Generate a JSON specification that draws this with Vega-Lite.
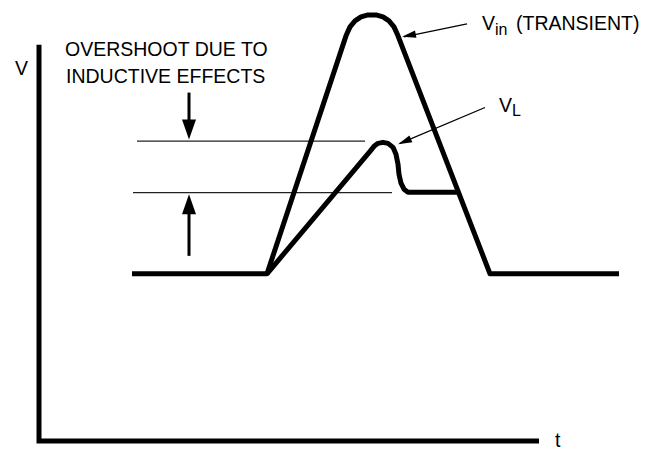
{
  "$schema": "https://vega.github.io/schema/vega-lite/v6.json",
  "width": 661,
  "height": 451,
  "autosize": {"type": "fit", "contains": "padding"},
  "padding": 0,
  "background": "white",
  "config": {"view": {"stroke": null}},
  "datasets": {
    "axes": [
      {"t": 39, "v": 406, "i": 0},
      {"t": 39, "v": 8, "i": 1},
      {"t": 539, "v": 8, "i": 2}
    ],
    "curves": [
      {"series": "Vin", "i": 0, "t": 132, "v": 176},
      {"series": "Vin", "i": 1, "t": 267, "v": 176},
      {"series": "Vin", "i": 2, "t": 346, "v": 415},
      {"series": "Vin", "i": 3, "t": 350, "v": 424},
      {"series": "Vin", "i": 4, "t": 355, "v": 430},
      {"series": "Vin", "i": 5, "t": 361, "v": 434},
      {"series": "Vin", "i": 6, "t": 368, "v": 436},
      {"series": "Vin", "i": 7, "t": 376, "v": 436},
      {"series": "Vin", "i": 8, "t": 383, "v": 434},
      {"series": "Vin", "i": 9, "t": 389, "v": 430},
      {"series": "Vin", "i": 10, "t": 394, "v": 424},
      {"series": "Vin", "i": 11, "t": 398, "v": 415},
      {"series": "Vin", "i": 12, "t": 490, "v": 176},
      {"series": "Vin", "i": 13, "t": 619, "v": 176},
      {"series": "VL", "i": 0, "t": 267, "v": 176},
      {"series": "VL", "i": 1, "t": 370, "v": 299},
      {"series": "VL", "i": 2, "t": 374, "v": 304},
      {"series": "VL", "i": 3, "t": 378, "v": 307},
      {"series": "VL", "i": 4, "t": 383, "v": 308},
      {"series": "VL", "i": 5, "t": 388, "v": 307},
      {"series": "VL", "i": 6, "t": 393, "v": 303},
      {"series": "VL", "i": 7, "t": 396, "v": 296},
      {"series": "VL", "i": 8, "t": 398, "v": 286},
      {"series": "VL", "i": 9, "t": 399, "v": 276},
      {"series": "VL", "i": 10, "t": 401, "v": 267},
      {"series": "VL", "i": 11, "t": 404, "v": 261},
      {"series": "VL", "i": 12, "t": 408, "v": 258},
      {"series": "VL", "i": 13, "t": 458, "v": 258}
    ],
    "refs": [
      {"level": "peak", "t": 137, "t2": 365, "v": 309.3},
      {"level": "settled", "t": 133, "t2": 392, "v": 257.5}
    ],
    "shafts": [
      {"dir": "down", "t": 189, "v": 358, "v2": 328},
      {"dir": "up", "t": 189, "v": 241, "v2": 194}
    ],
    "pointers": [
      {"target": "Vin", "t": 467, "v": 427, "t2": 404, "v2": 414},
      {"target": "VL", "t": 485, "v": 343, "t2": 400, "v2": 307}
    ],
    "heads": [
      {"name": "down", "t": 189, "v": 311},
      {"name": "up", "t": 189, "v": 256},
      {"name": "Vin", "t": 402, "v": 414},
      {"name": "VL", "t": 398, "v": 306}
    ],
    "labels": [
      {"text": "OVERSHOOT DUE TO", "t": 65, "v": 395},
      {"text": "INDUCTIVE EFFECTS", "t": 66, "v": 368},
      {"text": "V", "t": 15, "v": 376},
      {"text": "t", "t": 555, "v": 2},
      {"text": "V", "t": 482, "v": 421},
      {"text": "(TRANSIENT)", "t": 516, "v": 421},
      {"text": "V", "t": 499, "v": 338}
    ],
    "subs": [
      {"text": "in", "t": 495, "v": 416},
      {"text": "L", "t": 512, "v": 334}
    ]
  },
  "layer": [
    {
      "data": {"name": "axes"},
      "mark": {"type": "line", "color": "black", "strokeWidth": 5, "strokeJoin": "miter", "strokeCap": "butt"},
      "encoding": {
        "x": {"field": "t", "type": "quantitative", "scale": {"domain": [0, 661], "nice": false, "zero": false}, "axis": null},
        "y": {"field": "v", "type": "quantitative", "scale": {"domain": [0, 451], "nice": false, "zero": false}, "axis": null},
        "order": {"field": "i", "type": "quantitative"}
      }
    },
    {
      "data": {"name": "refs"},
      "mark": {"type": "rule", "color": "#222", "strokeWidth": 1.2},
      "encoding": {
        "x": {"field": "t", "type": "quantitative"},
        "x2": {"field": "t2"},
        "y": {"field": "v", "type": "quantitative"}
      }
    },
    {
      "data": {"name": "curves"},
      "mark": {"type": "line", "color": "black", "strokeWidth": 5, "strokeJoin": "round", "strokeCap": "butt"},
      "encoding": {
        "x": {"field": "t", "type": "quantitative"},
        "y": {"field": "v", "type": "quantitative"},
        "detail": {"field": "series"},
        "order": {"field": "i", "type": "quantitative"}
      }
    },
    {
      "data": {"name": "shafts"},
      "mark": {"type": "rule", "color": "black", "strokeWidth": 3},
      "encoding": {
        "x": {"field": "t", "type": "quantitative"},
        "y": {"field": "v", "type": "quantitative"},
        "y2": {"field": "v2"}
      }
    },
    {
      "data": {"name": "pointers"},
      "mark": {"type": "rule", "color": "black", "strokeWidth": 1.3},
      "encoding": {
        "x": {"field": "t", "type": "quantitative"},
        "y": {"field": "v", "type": "quantitative"},
        "x2": {"field": "t2"},
        "y2": {"field": "v2"}
      }
    },
    {
      "data": {"name": "heads"},
      "transform": [{"filter": "datum.name == 'down'"}],
      "mark": {"type": "point", "shape": "M0,0L-0.35,-1L0.35,-1Z", "size": 1600, "filled": true, "color": "black", "opacity": 1, "strokeWidth": 0},
      "encoding": {
        "x": {"field": "t", "type": "quantitative"},
        "y": {"field": "v", "type": "quantitative"}
      }
    },
    {
      "data": {"name": "heads"},
      "transform": [{"filter": "datum.name == 'up'"}],
      "mark": {"type": "point", "shape": "M0,0L-0.35,1L0.35,1Z", "size": 1600, "filled": true, "color": "black", "opacity": 1, "strokeWidth": 0},
      "encoding": {
        "x": {"field": "t", "type": "quantitative"},
        "y": {"field": "v", "type": "quantitative"}
      }
    },
    {
      "data": {"name": "heads"},
      "transform": [{"filter": "datum.name == 'Vin'"}],
      "mark": {"type": "point", "shape": "M0,0L-0.27,1L0.27,1Z", "size": 784, "angle": 258.7, "filled": true, "color": "black", "opacity": 1, "strokeWidth": 0},
      "encoding": {
        "x": {"field": "t", "type": "quantitative"},
        "y": {"field": "v", "type": "quantitative"}
      }
    },
    {
      "data": {"name": "heads"},
      "transform": [{"filter": "datum.name == 'VL'"}],
      "mark": {"type": "point", "shape": "M0,0L-0.27,1L0.27,1Z", "size": 784, "angle": 247, "filled": true, "color": "black", "opacity": 1, "strokeWidth": 0},
      "encoding": {
        "x": {"field": "t", "type": "quantitative"},
        "y": {"field": "v", "type": "quantitative"}
      }
    },
    {
      "data": {"name": "labels"},
      "mark": {"type": "text", "align": "left", "baseline": "alphabetic", "font": "Liberation Sans, Arial", "fontSize": 19.5, "color": "black"},
      "encoding": {
        "x": {"field": "t", "type": "quantitative"},
        "y": {"field": "v", "type": "quantitative"},
        "text": {"field": "text"}
      }
    },
    {
      "data": {"name": "subs"},
      "mark": {"type": "text", "align": "left", "baseline": "alphabetic", "font": "Liberation Sans, Arial", "fontSize": 16, "color": "black"},
      "encoding": {
        "x": {"field": "t", "type": "quantitative"},
        "y": {"field": "v", "type": "quantitative"},
        "text": {"field": "text"}
      }
    }
  ]
}
